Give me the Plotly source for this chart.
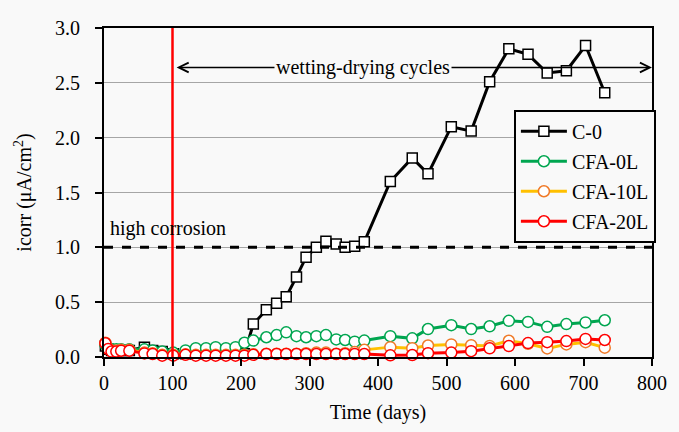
import plotly.graph_objects as go

# Measurement days (shared by all mixes)
days = [2, 6, 11, 18, 25, 37, 59, 71, 85, 101, 119, 134, 149, 163, 178, 192, 205,
        218, 237, 252, 266, 281, 295, 310, 324, 339, 352, 366, 380,
        418, 450, 473, 507, 536, 563, 591, 619, 647, 675, 703, 731]

# Corrosion current density, µA/cm²
c0 = [0.10, 0.07, 0.06, 0.06, 0.06, 0.06, 0.09, 0.06, 0.05, 0.03, 0.03, 0.03, 0.03, 0.03, 0.03, 0.03, 0.03,
      0.30, 0.43, 0.49, 0.55, 0.73, 0.91, 1.00, 1.055, 1.03, 1.00, 1.01, 1.05,
      1.60, 1.815, 1.67, 2.10, 2.06, 2.51, 2.81, 2.76, 2.59, 2.61, 2.84, 2.41]
cfa_0l = [0.11, 0.08, 0.07, 0.07, 0.07, 0.07, 0.07, 0.06, 0.05, 0.04, 0.06, 0.08, 0.08, 0.09, 0.08, 0.09, 0.13,
          0.15, 0.18, 0.20, 0.225, 0.19, 0.18, 0.19, 0.20, 0.16, 0.155, 0.14, 0.15,
          0.19, 0.17, 0.255, 0.29, 0.255, 0.28, 0.33, 0.32, 0.275, 0.30, 0.315, 0.335]
cfa_10l = [0.13, 0.08, 0.06, 0.06, 0.065, 0.065, 0.04, 0.035, 0.02, 0.02, 0.025, 0.02, 0.02, 0.02, 0.02, 0.02, 0.02,
           0.025, 0.03, 0.03, 0.03, 0.03, 0.035, 0.04, 0.04, 0.03, 0.035, 0.045, 0.065,
           0.09, 0.08, 0.105, 0.115, 0.108, 0.10, 0.148, 0.12, 0.078, 0.115, 0.135, 0.085]
cfa_20l = [0.125, 0.073, 0.05, 0.05, 0.057, 0.057, 0.033, 0.027, 0.012, 0.012, 0.02, 0.012, 0.012, 0.012, 0.012, 0.012, 0.012,
           0.02, 0.027, 0.027, 0.027, 0.027, 0.027, 0.027, 0.027, 0.027, 0.027, 0.027, 0.027,
           0.015, 0.018, 0.035, 0.04, 0.053, 0.079, 0.10, 0.127, 0.135, 0.145, 0.165, 0.155]

FONT = "Liberation Serif"
FS = 20
BG = "#f9f9f9"

fig = go.Figure()

series = [
    ("C-0", c0, "black", "black", "square", 10),
    ("CFA-0L", cfa_0l, "#00a650", "#00a650", "circle", 11),
    ("CFA-10L", cfa_10l, "#ffc000", "#f07a28", "circle", 11),
    ("CFA-20L", cfa_20l, "#ff0000", "#ff0000", "circle", 11),
]
for i, (name, vals, lc, mc, sym, ms) in enumerate(series):
    fig.add_trace(go.Scatter(
        x=days, y=vals, name=name, mode="lines+markers",
        legendgroup=f"g{i}",
        line=dict(color=lc, width=3),
        marker=dict(symbol=sym, size=ms, color="white",
                    line=dict(color=mc, width=1.5)),
        cliponaxis=False,
    ))

# Threshold for high corrosion and start of wetting-drying cycles
fig.add_shape(type="line", xref="x", yref="y", x0=0, x1=800, y0=1.0, y1=1.0,
              line=dict(color="black", width=3, dash="dash"))
fig.add_shape(type="line", xref="x", yref="y", x0=100, x1=100, y0=0, y1=3.0,
              line=dict(color="#ff0000", width=2.5))

fig.add_annotation(x=800, y=2.64, ax=103.8, ay=2.64, axref="x", ayref="y",
                   xref="x", yref="y", text="", showarrow=True,
                   arrowside="end+start", arrowhead=5, startarrowhead=5,
                   arrowsize=1.3, startarrowsize=1.3, arrowwidth=1.5,
                   arrowcolor="black", standoff=0, startstandoff=0)
fig.add_annotation(x=377.6, y=2.64, xref="x", yref="y", text="wetting-drying cycles",
                   showarrow=False, bgcolor=BG, borderpad=1,
                   font=dict(family=FONT, size=FS, color="black"))
fig.add_annotation(x=6, y=1.17, xref="x", yref="y", text="high corrosion",
                   showarrow=False, xanchor="left",
                   font=dict(family=FONT, size=FS, color="black"))

axis_common = dict(
    showline=True, linecolor="black", linewidth=2, mirror=True,
    ticks="outside", ticklen=7, tickwidth=2, tickcolor="black",
    tickfont=dict(family=FONT, size=FS, color="black"),
    zeroline=False,
)
fig.update_xaxes(range=[0, 800], dtick=100, showgrid=False,
                 title=dict(text="Time (days)", font=dict(family=FONT, size=FS, color="black"),
                            standoff=12),
                 **axis_common)
fig.update_yaxes(range=[0, 3.0], dtick=0.5, tickformat=".1f",
                 showgrid=True, gridcolor="#a6a6a6", gridwidth=1,
                 ticklabelstandoff=11,
                 title=dict(text="icorr (μA/cm<sup>2</sup>)",
                            font=dict(family=FONT, size=FS, color="black"), standoff=18),
                 **axis_common)

fig.update_layout(
    width=679, height=432,
    margin=dict(l=104, r=20, t=28, b=74),
    paper_bgcolor=BG, plot_bgcolor=BG,
    showlegend=True,
    legend=dict(x=0.748, y=0.7515, xanchor="left", yanchor="top",
                bgcolor=BG, bordercolor="black", borderwidth=2,
                tracegroupgap=1, itemwidth=46,
                font=dict(family=FONT, size=FS, color="black")),
)

fig.write_html("out.html")
